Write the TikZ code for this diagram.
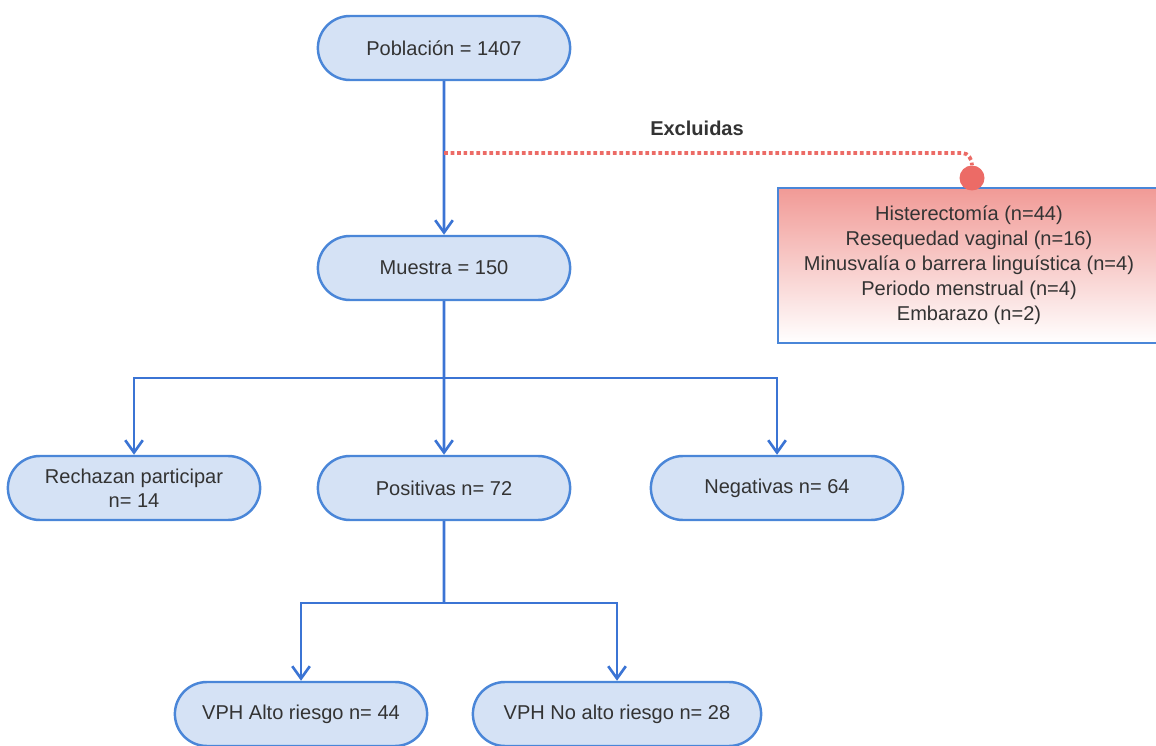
\documentclass[tikz,border=0pt]{standalone}
\usepackage{fontspec}
\setmainfont{Liberation Sans}
\usetikzlibrary{shapes.misc,arrows.meta}
\definecolor{stagefill}{HTML}{D5E2F5}
\definecolor{stageline}{HTML}{4A86D8}
\definecolor{linkline}{HTML}{3B74D4}
\definecolor{exred}{HTML}{EC6B66}
\definecolor{extop}{HTML}{F19A96}
\definecolor{txt}{HTML}{333333}
\tikzset{
  stage/.style={rounded rectangle, draw=stageline, fill=stagefill, line width=1.4pt,
    minimum width=5.28cm, minimum height=1.28cm, align=center, text=txt,
    font=\fontsize{11.4}{13.6}\selectfont},
  link/.style={draw=linkline, line width=1.5pt},
  flow/.style={link, -{Straight Barb[length=7pt,width=10pt]}},
}
\begin{document}
\begin{tikzpicture}[x=0.02cm, y=-0.02cm]
    \useasboundingbox (0,0) rectangle (1156,746);
    \clip (0,0) rectangle (1156,746);

    % main stages
    \node[stage] (pob) at (444,48) {Población = 1407};
    \node[stage] (mue) at (444,268) {Muestra = 150};
    \node[stage] (rech) at (134,488) {Rechazan participar\\n= 14};
    \node[stage] (pos) at (444,488) {Positivas n= 72};
    \node[stage] (neg) at (777,488) {Negativas n= 64};
    \node[stage] (alto) at (301,714) {VPH Alto riesgo n= 44};
    \node[stage, minimum width=6.0cm] (noalto) at (617,714) {VPH No alto riesgo n= 28};

    % excluded
    \node[draw=stageline, line width=1.4pt, top color=extop, bottom color=white,
      minimum width=7.64cm, minimum height=3.1cm, align=center, text=txt,
      font=\fontsize{11.4}{14.2}\selectfont] (excl) at (969,265.5)
      {Histerectomía (n=44)\\Resequedad vaginal (n=16)\\Minusvalía o barrera linguística (n=4)\\Periodo menstrual (n=4)\\Embarazo (n=2)};
    \node[circle, fill=exred, minimum size=0.5cm, inner sep=0pt] (dot) at (972,178) {};
    \node[text=txt, font=\fontsize{11.4}{13.6}\selectfont\bfseries] (exlab) at (697,128) {Excluidas};

    % connectors
    \coordinate (exc) at (444,153);
    \coordinate (split1) at (444,378);
    \coordinate (split2) at (444,603);
    \draw[flow] (pob) -- (mue);
    \draw[exred, line width=0.075cm, dash pattern=on 0.075cm off 0.055cm] (exc) -- (962,153) to[out=0,in=90] (dot.north);
    \draw[link] (mue) -- (split1);
    \draw[flow] (split1) -| (rech);
    \draw[flow] (split1) -- (pos);
    \draw[flow] (split1) -| (neg);
    \draw[link] (pos) -- (split2);
    \draw[flow] (split2) -| (alto);
    \draw[flow] (split2) -| (noalto);
\end{tikzpicture}
\end{document}
